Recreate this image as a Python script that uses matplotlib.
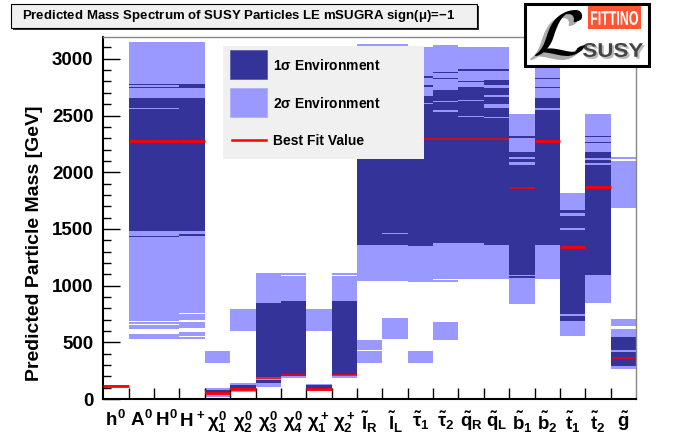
import matplotlib
matplotlib.use("Agg")
import matplotlib.pyplot as plt
from matplotlib.font_manager import FontProperties
from matplotlib.patches import PathPatch, Rectangle
from matplotlib.textpath import TextPath
from matplotlib.ticker import FixedLocator, MultipleLocator
from matplotlib.transforms import Affine2D

plt.rcParams["font.family"] = ["Liberation Sans", "DejaVu Sans"]
plt.rcParams["font.weight"] = "bold"
plt.rcParams["mathtext.fontset"] = "custom"
plt.rcParams["mathtext.rm"] = "Liberation Sans:bold"
plt.rcParams["mathtext.it"] = "Liberation Sans:bold"
plt.rcParams["mathtext.bf"] = "Liberation Sans:bold"

W, H = 675, 443
DARK = "#333399"
LIGHT = "#9999ff"

particles = [
    r"$h^0$", r"$A^0$", r"$H^0$", r"$H^+$",
    r"$\chi^0_1$", r"$\chi^0_2$", r"$\chi^0_3$", r"$\chi^0_4$",
    r"$\chi^+_1$", r"$\chi^+_2$",
    r"$\tilde{l}_R$", r"$\tilde{l}_L$", r"$\tilde{\tau}_1$", r"$\tilde{\tau}_2$",
    r"$\tilde{q}_R$", r"$\tilde{q}_L$", r"$\tilde{b}_1$", r"$\tilde{b}_2$",
    r"$\tilde{t}_1$", r"$\tilde{t}_2$", r"$\tilde{g}$",
]

# mass intervals [GeV] inside the 2 sigma environment, per particle
sigma2_bands = [
    [(108, 120)],
    [(529, 576), (617, 652), (664, 679), (688, 3145)],
    [(529, 576), (617, 652), (664, 679), (688, 3145)],
    [(529, 544), (553, 593), (623, 676), (694, 747), (758, 3145)],
    [(20, 97), (320, 423)],
    [(64, 144), (600, 794)],
    [(109, 1108)],
    [(187, 1085), (1091, 1108)],
    [(70, 130), (602, 794)],
    [(183, 1086), (1093, 1108)],
    [(320, 423), (432, 520), (1043, 3130)],
    [(532, 714), (1043, 3130)],
    [(320, 423), (1035, 3107)],
    [(523, 679), (1035, 1052), (1056, 3121)],
    [(1060, 3107)],
    [(1055, 3107)],
    [(838, 2513)],
    [(1061, 2922)],
    [(556, 1817)],
    [(850, 2513)],
    [(267, 617), (644, 705), (1687, 2099), (2116, 2134)],
]

# mass intervals [GeV] inside the 1 sigma environment, per particle
sigma1_bands = [
    [(110, 117)],
    [(1432, 1440), (1481, 2558), (2568, 2657), (2747, 2755), (2770, 2778)],
    [(1432, 1440), (1481, 2558), (2568, 2657), (2747, 2755), (2770, 2778)],
    [(1440, 1452), (1481, 2657), (2745, 2781)],
    [(40, 75)],
    [(79, 126)],
    [(138, 168), (192, 849)],
    [(207, 867)],
    [(79, 123)],
    [(212, 864)],
    [(1358, 2700)],
    [(1358, 1455), (1467, 2700)],
    [(1349, 2600), (2606, 2669), (2754, 2769), (2833, 2851)],
    [(1373, 2528), (2548, 2616), (2631, 2725), (2822, 2834), (2872, 2887)],
    [(1373, 2484), (2495, 2630), (2637, 2754), (2793, 2807), (2895, 2906)],
    [(1358, 2480), (2490, 2569), (2600, 2666), (2680, 2740), (2769, 2813), (2892, 2906)],
    [(1064, 1082), (1093, 2066), (2093, 2114), (2137, 2181), (2245, 2252), (2302, 2319)],
    [(1358, 2546), (2569, 2654), (2741, 2749), (2824, 2832)],
    [(688, 732), (752, 1493), (1505, 1614), (1640, 1669)],
    [(1093, 2064), (2078, 2105), (2122, 2181), (2257, 2269), (2313, 2322)],
    [(294, 417), (435, 547)],
]

best_fit = [115, 2275, 2275, 2275, 56, 91, 188, 211, 91, 212,
            2290, 2290, 2290, 2290, 2290, 2290, 1858, 2278, 1338, 1870, 362]
best_fit_lw = [2.0, 2.0, 2.0, 2.0, 2.0, 2.0, 1.1, 1.1, 2.0, 1.1,
               1.1, 1.1, 1.1, 1.1, 1.1, 1.1, 1.1, 2.0, 2.0, 2.0, 1.1]


def px_rect(x0, y0, x1, y1, **kw):
    """Rectangle given in pixel coordinates measured from the top-left corner."""
    return Rectangle((x0 / W, 1 - y1 / H), (x1 - x0) / W, (y1 - y0) / H,
                     transform=fig.transFigure, **kw)


def px_text_path(s, x0, y0, x1, y1, color, prop, zorder=6):
    """Text outline squeezed into a pixel box (top-left origin)."""
    tp = TextPath((0, 0), s, size=40, prop=prop)
    bb = tp.get_extents()
    tr = (Affine2D().translate(-bb.x0, -bb.y0)
          .scale((x1 - x0) / bb.width, (y1 - y0) / bb.height)
          .translate(x0, H - y1))
    fig.add_artist(PathPatch(tp, transform=tr, facecolor=color, edgecolor="none",
                             zorder=zorder))


fig = plt.figure(figsize=(W / 100, H / 100), dpi=100)
ax = fig.add_axes([103.3 / W, 1 - 399 / H, (636 - 103.3) / W, (399 - 36.7) / H])

for i, bands in enumerate(sigma2_bands):
    for lo, hi in bands:
        ax.bar(i, hi - lo, bottom=lo, width=1.0, color=LIGHT, linewidth=0,
               antialiased=False, zorder=1)
for i, bands in enumerate(sigma1_bands):
    for lo, hi in bands:
        ax.bar(i, hi - lo, bottom=lo, width=1.0, color=DARK, linewidth=0,
               antialiased=False, zorder=2)
for i, (m, lw) in enumerate(zip(best_fit, best_fit_lw)):
    ax.hlines(m, i - 0.5, i + 0.5, color="red", linewidth=lw, zorder=3)

ax.set_xlim(-0.5, len(particles) - 0.5)
ax.set_ylim(0, 3195)

ax.yaxis.set_major_locator(MultipleLocator(500))
ax.yaxis.set_minor_locator(MultipleLocator(100))
ax.tick_params(axis="y", which="major", direction="in", length=12, width=1,
               labelsize=13.5, pad=7)
ax.tick_params(axis="y", which="minor", direction="in", length=6, width=1)
for lab in ax.get_yticklabels():
    lab.set_fontweight("bold")

ax.xaxis.set_major_locator(FixedLocator(range(len(particles))))
ax.set_xticklabels(particles)
ax.xaxis.set_minor_locator(FixedLocator([i + 0.5 for i in range(len(particles) - 1)]))
ax.tick_params(axis="x", which="major", length=0, labelsize=13.5, pad=8)
ax.tick_params(axis="x", which="minor", direction="in", length=8, width=1)

for side in ("left", "bottom"):
    ax.spines[side].set_linewidth(1.5)
    ax.spines[side].set_color("black")
for side in ("top", "right"):
    ax.spines[side].set_linewidth(1.0)
    ax.spines[side].set_color("#888888")

fig.text(35 / W, 1 - 243 / H, "Predicted Particle Mass [GeV]", rotation=90,
         ha="center", va="center", fontsize=14, fontweight="bold")

# title box with shadow
fig.add_artist(px_rect(13, 6, 479, 30, facecolor="#333333", edgecolor="none", zorder=4))
fig.add_artist(px_rect(11, 4, 477, 28, facecolor="#f0f0f0", edgecolor="black",
                       linewidth=0.8, zorder=5))
fig.text(22 / W, 1 - 16 / H, r"Predicted Mass Spectrum of SUSY Particles LE mSUGRA sign($\mu$)=$-$1",
         ha="left", va="center", fontsize=9.5, fontweight="bold", zorder=6)

# legend
fig.add_artist(px_rect(223, 46, 424, 159, facecolor="#f0f0f0", edgecolor="none", zorder=4))
fig.add_artist(px_rect(230, 50, 267, 79, facecolor=DARK, edgecolor="#5555aa",
                       linewidth=0.5, zorder=5))
fig.add_artist(px_rect(230, 88, 267, 117, facecolor=LIGHT, edgecolor="#aaaaff",
                       linewidth=0.5, zorder=5))
fig.add_artist(plt.Line2D([232 / W, 266 / W], [1 - 140 / H, 1 - 140 / H],
                          transform=fig.transFigure, color="red", linewidth=1.8, zorder=5))
for y, label in [(65, r"1$\sigma$ Environment"), (103, r"2$\sigma$ Environment"),
                 (141, "Best Fit Value")]:
    fig.text(273 / W, 1 - y / H, label, ha="left", va="center", fontsize=10,
             fontweight="bold", zorder=6)

# Fittino logo
fig.add_artist(px_rect(525, 4, 649, 66, facecolor="white", edgecolor="black",
                       linewidth=2.2, zorder=5))
fig.add_artist(px_rect(588, 6, 641, 29, facecolor="#ff5533", edgecolor="none", zorder=6))
bold = FontProperties(family="Liberation Sans", weight="bold")
px_text_path("FITTINO", 591, 11, 638, 25, "white", bold, zorder=7)
px_text_path("SUSY", 585, 45, 645, 59, "#bbbbbb", bold, zorder=6)
px_text_path("SUSY", 583, 43, 643, 57, "#444444", bold, zorder=7)
script = FontProperties(math_fontfamily="cm")
px_text_path(r"$\mathcal{L}$", 530, 14, 580, 60, "#aaaaaa", script, zorder=6)
px_text_path(r"$\mathcal{L}$", 535, 10, 585, 56, "black", script, zorder=7)

fig.savefig("out.png", dpi=100)
